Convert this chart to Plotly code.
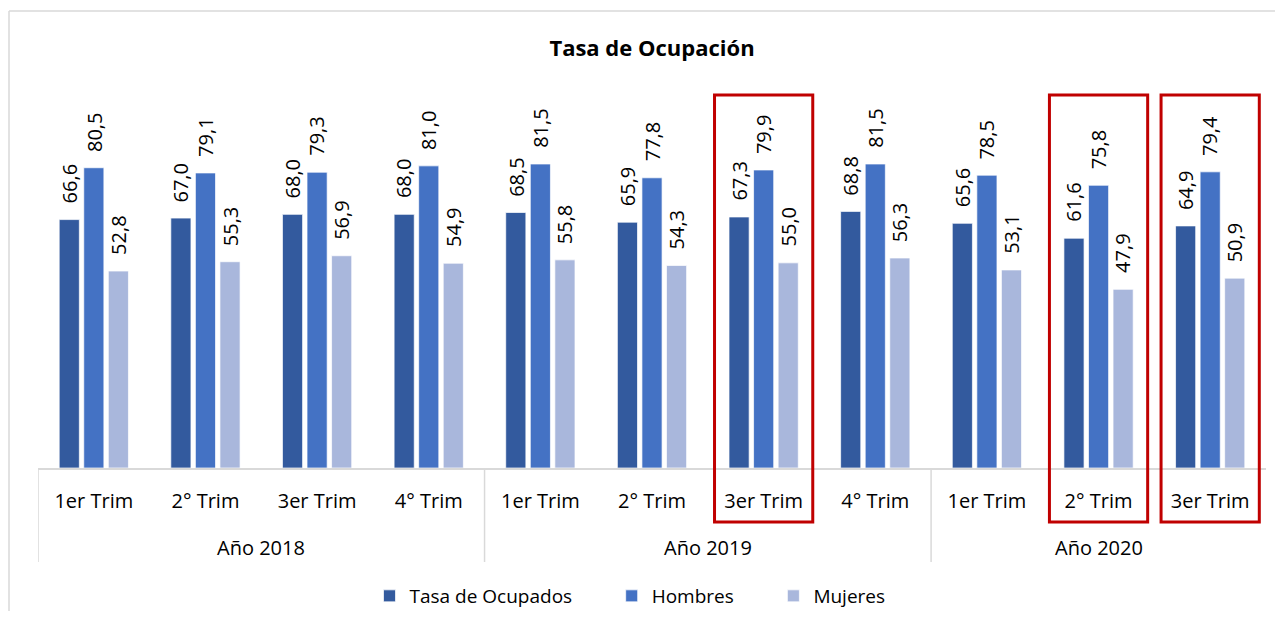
import plotly.graph_objects as go

years = ["Año 2018", "Año 2019", "Año 2020"]
quarters_per_year = [4, 4, 3]
quarters = ["1er Trim", "2° Trim", "3er Trim", "4° Trim",
            "1er Trim", "2° Trim", "3er Trim", "4° Trim",
            "1er Trim", "2° Trim", "3er Trim"]
tasa_ocupados = [66.6, 67.0, 68.0, 68.0, 68.5, 65.9, 67.3, 68.8, 65.6, 61.6, 64.9]
hombres = [80.5, 79.1, 79.3, 81.0, 81.5, 77.8, 79.9, 81.5, 78.5, 75.8, 79.4]
mujeres = [52.8, 55.3, 56.9, 54.9, 55.8, 54.3, 55.0, 56.3, 53.1, 47.9, 50.9]
series_names = ["Tasa de Ocupados", "Hombres", "Mujeres"]
highlighted = [6, 9, 10]

colors = ["#335A9E", "#4472C4", "#A9B7DC"]
FONT = "Open Sans, sans-serif"

# page body has an 8px margin; figure sized to fit the window
W, H = 1283 - 16, 619 - 16
L, R, T, B = 30, 9, 87, 143
plot_w = W - L - R
plot_h = H - T - B

n = len(quarters)
idx = list(range(n))

fig = go.Figure()
all_series = [tasa_ocupados, hombres, mujeres]
pad = "\u00a0" * 7
for k, (name, vals, col) in enumerate(zip(series_names, all_series, colors)):
    fig.add_trace(go.Bar(
        x=idx, y=vals, name=name + (pad if k < len(series_names) - 1 else ""),
        marker=dict(color=col, line=dict(color="rgba(255,255,255,0.7)", width=1)),
        hovertext=quarters, hoverinfo="y+text",
    ))

slot_px = 24.5
annotations = []
for k, vals in enumerate(all_series):
    for i, v in enumerate(vals):
        annotations.append(dict(
            x=i, y=v, xref="x", yref="y",
            text=f"{v:.1f}".replace(".", ","),
            showarrow=False, textangle=-90,
            xanchor="center", yanchor="bottom",
            xshift=(k - 1) * slot_px, yshift=14,
            font=dict(family=FONT, size=20, color="#000000"),
        ))

# year labels (second level of the category axis)
shapes = []
start = 0
year_y = -(547 - 468) / plot_h
div_y = -(562 - 468) / plot_h
for yr, cnt in zip(years, quarters_per_year):
    annotations.append(dict(
        x=start + (cnt - 1) / 2, y=year_y, xref="x", yref="paper",
        text=yr, showarrow=False, xanchor="center", yanchor="middle",
        font=dict(family=FONT, size=20, color="#000000"),
    ))
    shapes.append(dict(type="line", xref="x", yref="paper",
                       x0=start - 0.5, x1=start - 0.5, y0=0, y1=div_y,
                       line=dict(color="#D9D9D9", width=1.5)))
    start += cnt

half = 0.44
for i in highlighted:
    shapes.append(dict(
        type="rect", xref="x", yref="paper",
        x0=i - half, x1=i + half,
        y0=-(522 - 468) / plot_h, y1=1.0,
        line=dict(color="#C00000", width=3), fillcolor="rgba(0,0,0,0)",
    ))

# outer chart frame (top and left edges visible)
fx0 = (1 - L) / plot_w
fy1 = (T + plot_h - 3) / plot_h
shapes.append(dict(type="line", xref="paper", yref="paper", x0=fx0, x1=(W - L) / plot_w,
                   y0=fy1, y1=fy1, line=dict(color="#D9D9D9", width=1.5)))
shapes.append(dict(type="line", xref="paper", yref="paper", x0=fx0, x1=fx0,
                   y0=fy1, y1=-B / plot_h, line=dict(color="#D9D9D9", width=1.5)))

fig.update_layout(
    width=W, height=H,
    margin=dict(l=L, r=R, t=T, b=B, autoexpand=False),
    paper_bgcolor="white", plot_bgcolor="white",
    barmode="group", bargap=0.34, bargroupgap=0.18,
    title=dict(text="<b>Tasa de Ocupación</b>", x=(L + plot_w / 2) / W, xanchor="center",
               yref="container", y=1 - 40 / H, yanchor="middle",
               font=dict(family=FONT, size=22, color="#000000")),
    font=dict(family=FONT, size=20, color="#000000"),
    legend=dict(orientation="h", x=(630 - 8) / W, xanchor="center", xref="container",
                y=1 - 588 / H, yanchor="middle", yref="container",
                font=dict(family=FONT, size=19, color="#000000"),
                itemwidth=30, bgcolor="rgba(0,0,0,0)"),
    xaxis=dict(range=[-0.5, n - 0.5], tickvals=idx, ticktext=quarters,
               showline=True, linecolor="#D9D9D9", linewidth=1.5,
               ticks="", ticklabelstandoff=14,
               tickfont=dict(family=FONT, size=20, color="#000000"),
               showgrid=False, zeroline=False, fixedrange=True, automargin=False),
    yaxis=dict(range=[0, 100], visible=False, showgrid=False, zeroline=False,
               fixedrange=True),
    annotations=annotations,
    shapes=shapes,
    showlegend=True,
)

fig.write_html("out.html")
